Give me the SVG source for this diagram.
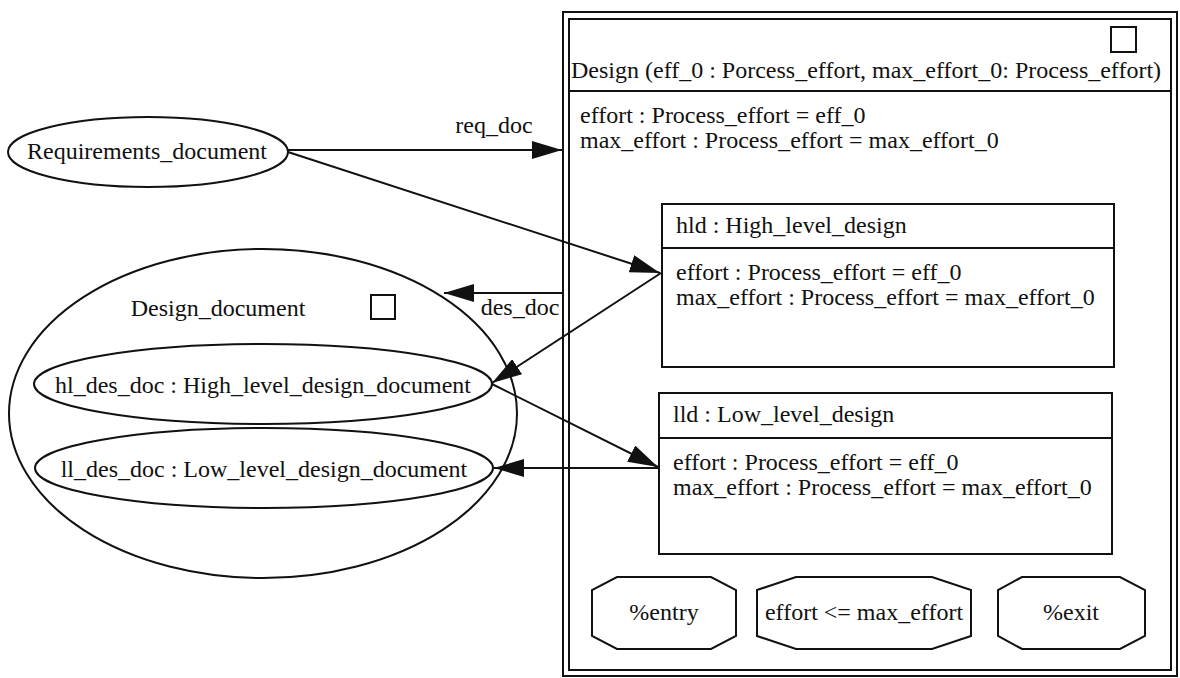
<svg xmlns="http://www.w3.org/2000/svg" width="1180" height="678" viewBox="0 0 1180 678">
  <style>
    .t { font-family: "Liberation Serif", "Times New Roman", serif; font-size: 24px; fill: #111; }
    .m { text-anchor: middle; }
    .ln { fill: none; stroke: #111; stroke-width: 2; }
    .shape { fill: none; stroke: #111; stroke-width: 2; }
  </style>
  <defs>
    <marker id="arrow" markerUnits="userSpaceOnUse" markerWidth="30" markerHeight="18" refX="30" refY="9" orient="auto">
      <path d="M0,0 L30,9 L0,18 z" fill="#111"/>
    </marker>
  </defs>
  <rect width="1180" height="678" fill="#fff"/>

  <!-- Design process frame -->
  <g id="design">
    <rect x="563" y="12" width="614" height="664" class="shape"/>
    <rect x="569" y="19" width="602" height="651" class="shape"/>
    <line x1="569" y1="91" x2="1171" y2="91" class="ln"/>
    <rect x="1111" y="27" width="25" height="25" class="shape"/>
    <text x="571" y="78" class="t">Design (eff_0 : Porcess_effort, max_effort_0: Process_effort)</text>
    <text x="580" y="123" class="t">effort : Process_effort = eff_0</text>
    <text x="580" y="148" class="t">max_effort : Process_effort = max_effort_0</text>
  </g>

  <g id="hld">
    <rect x="662" y="204" width="452" height="163" class="shape"/>
    <line x1="662" y1="248" x2="1114" y2="248" class="ln"/>
    <text x="676" y="233" class="t">hld : High_level_design</text>
    <text x="676" y="280" class="t">effort : Process_effort = eff_0</text>
    <text x="676" y="305" class="t">max_effort : Process_effort = max_effort_0</text>
  </g>

  <g id="lld">
    <rect x="659" y="393" width="453" height="161" class="shape"/>
    <line x1="659" y1="438" x2="1112" y2="438" class="ln"/>
    <text x="673" y="422" class="t">lld : Low_level_design</text>
    <text x="673" y="470" class="t">effort : Process_effort = eff_0</text>
    <text x="673" y="495" class="t">max_effort : Process_effort = max_effort_0</text>
  </g>

  <g id="entry">
    <polygon points="617,577 711,577 736,590 736,636 711,649 617,649 592,636 592,590" class="shape"/>
    <text x="664" y="620" class="t m">%entry</text>
  </g>

  <g id="invariant">
    <polygon points="796,577 932,577 971,590 971,636 932,649 796,649 757,636 757,590" class="shape"/>
    <text x="864" y="620" class="t m">effort &lt;= max_effort</text>
  </g>

  <g id="exit">
    <polygon points="1022,577 1120,577 1145,590 1145,636 1120,649 1022,649 998,636 998,590" class="shape"/>
    <text x="1071" y="620" class="t m">%exit</text>
  </g>

  <g id="requirements_document">
    <ellipse cx="148" cy="152" rx="140" ry="35" class="shape"/>
    <text x="147" y="159" class="t m">Requirements_document</text>
  </g>

  <g id="design_document">
    <ellipse cx="263" cy="413.5" rx="254" ry="164.5" class="shape"/>
    <text x="218" y="316" class="t m">Design_document</text>
    <rect x="371" y="295" width="24" height="24" class="shape"/>
  </g>

  <g id="hl_des_doc">
    <ellipse cx="263" cy="384" rx="229" ry="40" class="shape"/>
    <text x="263" y="393" class="t m">hl_des_doc : High_level_design_document</text>
  </g>

  <g id="ll_des_doc">
    <ellipse cx="264" cy="468" rx="229" ry="40" class="shape"/>
    <text x="264" y="477" class="t m">ll_des_doc : Low_level_design_document</text>
  </g>

  <g id="connectors">
    <line x1="288" y1="150" x2="562" y2="150" class="ln" marker-end="url(#arrow)"/>
    <text x="494" y="133" class="t m">req_doc</text>
    <line x1="288" y1="152" x2="660" y2="273" class="ln" marker-end="url(#arrow)"/>
    <line x1="563" y1="293" x2="444" y2="293" class="ln" marker-end="url(#arrow)"/>
    <text x="520" y="315" class="t m">des_doc</text>
    <line x1="661" y1="273" x2="492" y2="383" class="ln" marker-end="url(#arrow)"/>
    <line x1="492" y1="384" x2="658" y2="467" class="ln" marker-end="url(#arrow)"/>
    <line x1="659" y1="468" x2="494" y2="468" class="ln" marker-end="url(#arrow)"/>
  </g>
</svg>
